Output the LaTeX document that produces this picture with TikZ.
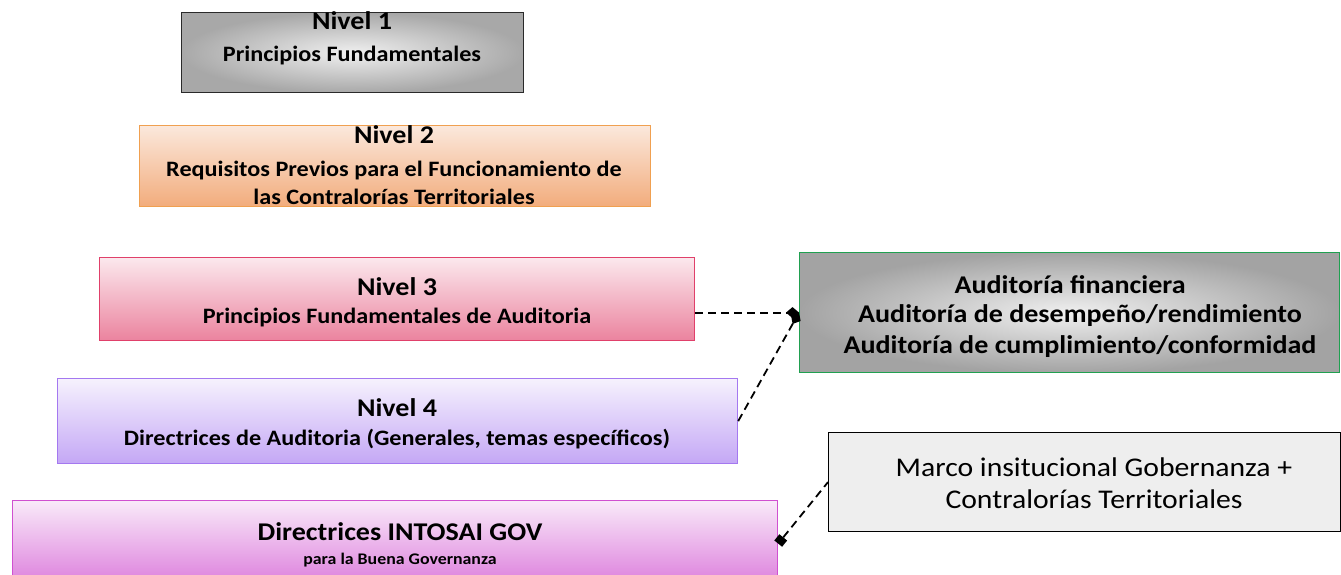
\documentclass[tikz,border=0pt]{standalone}
\usepackage{fontspec}
\setmainfont{Carlito}[FakeStretch=1.1]
\usetikzlibrary{arrows.meta,calc}
\definecolor{b1}{HTML}{2A2A2A}
\definecolor{b2}{HTML}{F0A050}
\definecolor{b3}{HTML}{E0406A}
\definecolor{b4}{HTML}{A478F0}
\definecolor{b5}{HTML}{D050D0}
\definecolor{bg}{HTML}{20A050}
\definecolor{o1}{HTML}{FBE8DC}
\definecolor{o2}{HTML}{F2AC7C}
\tikzset{
  box/.style={draw, rectangle, line width=1.2pt, inner sep=0pt, anchor=north west},
  ttl/.style={font=\fontsize{25.5}{28}\selectfont\bfseries, anchor=base, inner sep=0pt},
  sub/.style={font=\fontsize{22}{26}\selectfont\bfseries, anchor=base, inner sep=0pt},
  reg/.style={font=\fontsize{27}{30}\selectfont, anchor=base, inner sep=0pt},
  conn/.style={line width=1.8pt, dash pattern=on 8pt off 5pt},
}
\begin{document}
\begin{tikzpicture}[x=1pt,y=-1pt]
\clip (0,0) rectangle (1341,575);
% boxes
\node[box, draw=b1, minimum width=342pt, minimum height=80pt, inner color=gray!12, outer color=gray!68, shading=radial] (n1) at (181,12) {};
\node[box, draw=b2, minimum width=511pt, minimum height=81pt, top color=o1, bottom color=o2] (n2) at (139,125) {};
\node[box, draw=b3, minimum width=595pt, minimum height=83pt, top color=b3!12!white, bottom color=b3!65!white] (n3) at (99,257) {};
\node[box, draw=b4, minimum width=680pt, minimum height=85pt, top color=b4!10!white, bottom color=b4!65!white] (n4) at (57,378) {};
\node[box, draw=b5, minimum width=765pt, minimum height=80pt, top color=b5!12!white, bottom color=b5!70!white] (n5) at (12,500) {};
\node[box, draw=bg, minimum width=540pt, minimum height=120pt, inner color=gray!12, outer color=gray!72, shading=radial] (g) at (799,252) {};
\node[box, draw=black, minimum width=512pt, minimum height=99pt, fill=gray!13] (m) at (828,432) {};
% texts
\node[ttl] (t1a) at (352,30) {Nivel 1};
\node[sub] (t1b) at (352,62) {Principios Fundamentales};
\node[ttl] (t2a) at (394,143) {Nivel 2};
\node[sub] (t2b) at (394,176) {Requisitos Previos para el Funcionamiento de};
\node[sub] (t2c) at (394,204) {las Contralorías Territoriales};
\node[ttl] (t3a) at (397,295) {Nivel 3};
\node[sub] (t3b) at (397,323) {Principios Fundamentales de Auditoria};
\node[ttl] (t4a) at (397,416) {Nivel 4};
\node[sub] (t4b) at (397,445) {Directrices de Auditoria (Generales, temas específicos)};
\node[ttl] (t5a) at (400,540) {Directrices INTOSAI GOV};
\node[font=\fontsize{16.2}{18}\selectfont\bfseries, anchor=base, inner sep=0pt] (t5b) at (400,564) {para la Buena Governanza};
\node[ttl] (tg1) at (1070,293) {Auditoría financiera};
\node[ttl] (tg2) at (1080,322) {Auditoría de desempeño/rendimiento};
\node[ttl] (tg3) at (1080,353) {Auditoría de cumplimiento/conformidad};
\node[reg] (tm1) at (1094,476) {Marco insitucional Gobernanza +};
\node[reg] (tm2) at (1094,508) {Contralorías Territoriales};
% connectors
\draw[conn, -{Diamond[length=13pt,width=11pt,line width=0pt]}] (n3.east |- g.west) -- (g.west);
\draw[conn, -{Diamond[length=13pt,width=11pt,line width=0pt]}] (n4.east) -- (g.west);
\draw[conn, {Square[length=8pt,width=10pt,line width=0pt]}-] ([yshift=-3pt]n5.east) -- (m.west);
\end{tikzpicture}
\end{document}
